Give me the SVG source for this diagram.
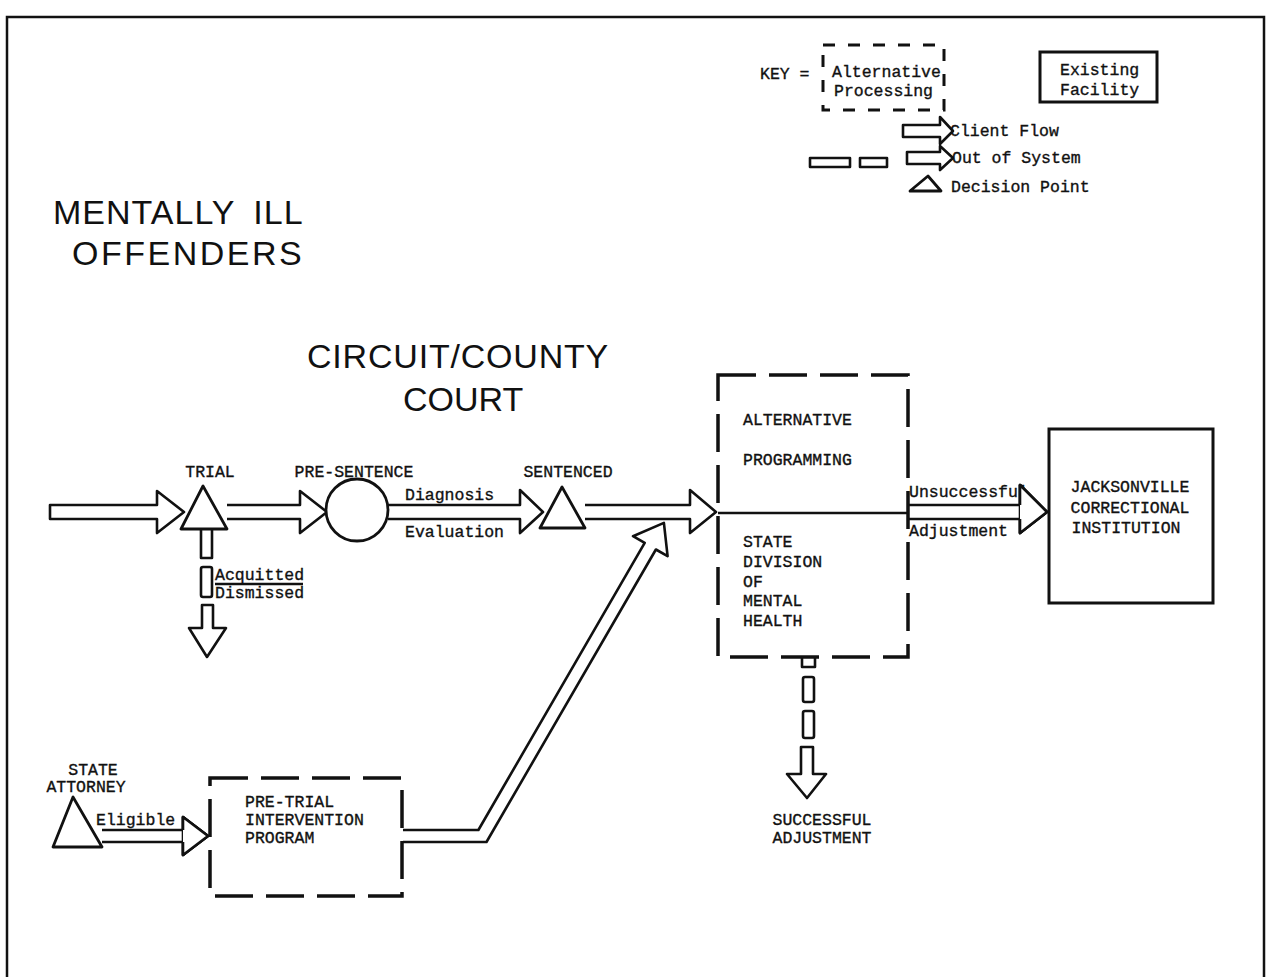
<svg xmlns="http://www.w3.org/2000/svg" width="1268" height="977" viewBox="0 0 1268 977">
<style>
.frame{fill:none;stroke:#111;stroke-width:2.5}
.arr{fill:#fff;stroke:#111;stroke-width:2.6;stroke-linejoin:round}
.ln{fill:none;stroke:#111;stroke-width:2.6}
.solid{fill:#fff;stroke:#111;stroke-width:3}
.dash{fill:none;stroke:#111;stroke-width:3.5;stroke-dasharray:38 13}
.kdash{fill:none;stroke:#111;stroke-width:3;stroke-dasharray:12 13}
.shape{fill:#fff;stroke:#111;stroke-width:2.8;stroke-linejoin:round}
.tw{font-family:"Liberation Mono","DejaVu Sans Mono",monospace;font-size:16.5px;fill:#111;stroke:#111;stroke-width:0.35}
.tt{font-family:"Liberation Sans",Arial,sans-serif;font-size:34px;fill:#111}
</style>
<rect width="1268" height="977" fill="#fff"/>
<path class="frame" d="M7,977 V17 H1264 V977"/>

<g id="title">
<text class="tt" x="53" y="224" word-spacing="8" letter-spacing="1">MENTALLY ILL</text>
<text class="tt" x="72" y="265" letter-spacing="2.5">OFFENDERS</text>
</g>
<g id="court-title">
<text class="tt" x="307" y="368" letter-spacing="0.8">CIRCUIT/COUNTY</text>
<text class="tt" x="403" y="411">COURT</text>
</g>

<g id="key">
<text class="tw" x="760" y="79">KEY =</text>
<rect class="kdash" x="823" y="45" width="121" height="65"/>
<text class="tw" x="832" y="77">Alternative</text>
<text class="tw" x="834" y="96">Processing</text>
<rect class="solid" x="1040" y="52" width="117" height="50"/>
<text class="tw" x="1060" y="75">Existing</text>
<text class="tw" x="1060" y="95">Facility</text>
<text class="tw" x="950" y="136">Client Flow</text>
<path class="arr" d="M903,125 H940 V117 L953,131 L940,144 V137 H903 Z"/>
<rect class="arr" x="810" y="158" width="40" height="9"/>
<rect class="arr" x="860" y="158" width="27" height="9"/>
<path class="arr" d="M907,152 H940 V146 L953,158 L940,170 V164 H907 Z"/>
<text class="tw" x="952" y="163">Out of System</text>
<path class="shape" d="M928,176 L910,191 L941,191 Z"/>
<text class="tw" x="951" y="192">Decision Point</text>
</g>

<g id="connectors">
<path class="arr" d="M50,505 H157 V491 L184,512 L157,533 V519 H50 Z"/>
<path class="arr" d="M227,505 H300 V491 L327,512 L300,533 V519 H227"/>
<path class="arr" d="M388,505 H520 V490 L543,512 L520,533 V519 H388"/>
<path class="arr" d="M585,505 H690 V490 L716,512 L690,533 V519 H585"/>
<path class="arr" d="M403,830 H478.4 L644.7,542.9 L633,536.2 L663.9,522.9 L667.6,556.2 L655.9,549.5 L486.5,842 H403"/>
<path class="arr" d="M102,830 H183 V817 L208,836 L183,855 V842 H102"/>
<path class="arr" d="M201,529 V558 H212 V529"/>
<rect class="arr" x="201" y="567" width="11" height="30" rx="2"/>
<path class="arr" d="M202,605 V628 H189 L207,657 L226,628 H213 V605 Z"/>
<path class="ln" d="M718,513 H912"/>
<path class="arr" d="M908,505 H1020 V485 L1047,512 L1020,533 V519 H908"/>
<path class="arr" d="M802,657 V667 H815 V657"/>
<rect class="arr" x="803" y="677" width="11" height="25" rx="2"/>
<rect class="arr" x="803" y="711" width="11" height="27" rx="2"/>
<path class="arr" d="M801,747 V774 H787 L807,798 L826,774 H813 V747 Z"/>
</g>

<g id="trial">
<path class="shape" d="M203,486 L181,529 L227,529 Z"/>
<text class="tw" x="210" y="477" text-anchor="middle">TRIAL</text>
</g>
<g id="acquitted-label">
<text class="tw" x="215" y="580">Acquitted</text>
<path class="ln" d="M215,584 H303" stroke-width="1.6"/>
<text class="tw" x="215" y="598">Dismissed</text>
</g>
<g id="pre-sentence">
<circle class="shape" cx="357" cy="510" r="31"/>
<text class="tw" x="354" y="477" text-anchor="middle">PRE-SENTENCE</text>
</g>
<g id="diag-label">
<text class="tw" x="405" y="500">Diagnosis</text>
<text class="tw" x="405" y="537">Evaluation</text>
</g>
<g id="sentenced">
<path class="shape" d="M562,487 L540,528 L585,528 Z"/>
<text class="tw" x="568" y="477" text-anchor="middle">SENTENCED</text>
</g>
<g id="alternative-programming">
<rect class="dash" x="718" y="375" width="190" height="282"/>
<text class="tw" x="743" y="425">ALTERNATIVE</text>
<text class="tw" x="743" y="465">PROGRAMMING</text>
<text class="tw" x="743" y="547">STATE</text>
<text class="tw" x="743" y="567">DIVISION</text>
<text class="tw" x="743" y="587">OF</text>
<text class="tw" x="743" y="606">MENTAL</text>
<text class="tw" x="743" y="626">HEALTH</text>
</g>
<g id="unsuccessful-label">
<text class="tw" x="909" y="497">Unsuccessful</text>
<text class="tw" x="909" y="536">Adjustment</text>
</g>
<path class="arr" d="M1020,485 L1047,512 L1020,533 Z" stroke="none"/>
<path class="arr" d="M1020,505 V485 L1047,512 L1020,533 V519" fill="none"/>
<g id="jci">
<rect class="solid" x="1049" y="429" width="164" height="174"/>
<text class="tw" x="1130" y="492" text-anchor="middle">JACKSONVILLE</text>
<text class="tw" x="1130" y="513" text-anchor="middle">CORRECTIONAL</text>
<text class="tw" x="1126" y="533" text-anchor="middle">INSTITUTION</text>
</g>
<g id="successful">
<text class="tw" x="822" y="825" text-anchor="middle">SUCCESSFUL</text>
<text class="tw" x="822" y="843" text-anchor="middle">ADJUSTMENT</text>
</g>
<g id="state-attorney">
<path class="shape" d="M73,797 L53,847 L102,847 Z"/>
<text class="tw" x="93" y="775" text-anchor="middle">STATE</text>
<text class="tw" x="86" y="792" text-anchor="middle">ATTORNEY</text>
<text class="tw" x="96" y="825">Eligible</text>
</g>
<path class="arr" d="M183,817 L208,836 L183,855 Z" stroke="none"/>
<path class="arr" d="M183,830 V817 L208,836 L183,855 V842" fill="none"/>
<g id="pre-trial">
<rect class="dash" x="210" y="778" width="192" height="118"/>
<text class="tw" x="245" y="807">PRE-TRIAL</text>
<text class="tw" x="245" y="825">INTERVENTION</text>
<text class="tw" x="245" y="843">PROGRAM</text>
</g>
</svg>
